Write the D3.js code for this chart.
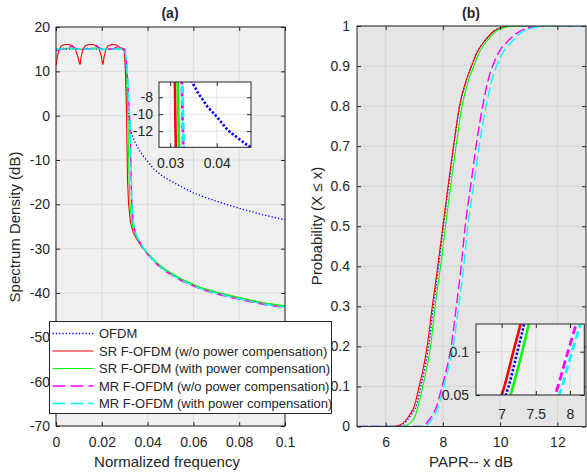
<!DOCTYPE html>
<html>
<head>
<meta charset="utf-8">
<script src="https://cdn.jsdelivr.net/npm/d3@7"></script>
<style>
  body { margin: 0; background: #fff; }
  svg { display: block; font-family: "Liberation Sans", Arial, Helvetica, sans-serif; }
</style>
</head>
<body>
<svg id="chart" width="587" height="472"></svg>
<script>
// ---- data: (a) spectrum density, [normalized frequency, dB] ----
var psdOfdm = [[0, 15], [0.01, 15], [0.02, 15], [0.0298, 15], [0.0304, 10], [0.031, 3], [0.0318, -1],
  [0.0328, -3.6], [0.0337, -5], [0.0345, -6], [0.036, -7.5], [0.038, -9.1], [0.04, -10.3], [0.0424, -11.9],
  [0.0464, -13.6], [0.05, -14.7], [0.055, -16.1], [0.06, -17.4], [0.065, -18.4], [0.07, -19.3],
  [0.075, -20.1], [0.08, -20.9], [0.085, -21.6], [0.09, -22.3], [0.095, -22.9], [0.1, -23.5]];

var psdSr = [[0, 11.3], [0.0006, 13.3], [0.0014, 15.0], [0.0024, 15.8], [0.0038, 16.05], [0.0058, 16.05],
  [0.0074, 15.7], [0.0085, 14.9], [0.0094, 13.6], [0.0101, 12.1], [0.0105, 11.5], [0.011, 13.3],
  [0.0118, 15.0], [0.0128, 15.8], [0.0142, 16.05], [0.0162, 16.05], [0.0178, 15.7], [0.0189, 14.9],
  [0.0197, 13.6], [0.0202, 12.1], [0.0205, 11.5], [0.021, 13.3], [0.0218, 15.0], [0.0228, 15.8],
  [0.0242, 16.05], [0.026, 16.0], [0.0274, 15.6], [0.0285, 15.1], [0.0293, 15.0],
  [0.0298, 14.6], [0.0302, 12], [0.0306, 5], [0.0308, 0], [0.031, -6], [0.0312, -14], [0.0317, -20],
  [0.0325, -24], [0.0338, -26.5], [0.035, -27.6], [0.0375, -29.6], [0.04, -31.2], [0.044, -33.3],
  [0.048, -35], [0.055, -37], [0.063, -38.8], [0.07, -39.9], [0.0774, -40.8], [0.085, -41.7],
  [0.092, -42.4], [0.1, -43]];

var psdSrPc = [[0, 14.8], [0.003, 15.1], [0.007, 15.3], [0.0105, 14.9], [0.014, 15.1], [0.0178, 15.3],
  [0.0205, 14.9], [0.024, 15.1], [0.028, 15.2], [0.0299, 15], [0.0306, 12], [0.0311, 5], [0.0314, 0],
  [0.0316, -6], [0.0319, -14], [0.0323, -20], [0.0331, -24], [0.0343, -26.5], [0.0355, -27.6],
  [0.0378, -29.5], [0.04, -31], [0.044, -33.1], [0.048, -34.8], [0.055, -36.9], [0.063, -38.7],
  [0.07, -39.8], [0.0774, -40.7], [0.085, -41.6], [0.092, -42.3], [0.1, -42.9]];

var psdMr = [[0, 14.6], [0.003, 15.0], [0.0055, 15.3], [0.0068, 15.8], [0.008, 15.3], [0.0105, 14.9],
  [0.015, 15.1], [0.0165, 15.4], [0.0176, 15.8], [0.0188, 15.3], [0.0205, 14.9], [0.025, 15.1],
  [0.0272, 15.6], [0.0285, 15.3], [0.03, 15], [0.0308, 12], [0.0316, 5], [0.0321, 0], [0.0325, -6],
  [0.0328, -14], [0.0331, -20], [0.0337, -24], [0.0348, -26.8], [0.036, -28], [0.038, -29.8],
  [0.04, -31.3], [0.044, -33.5], [0.048, -35.2], [0.055, -37.3], [0.063, -39.1], [0.07, -40.2],
  [0.0774, -41.1], [0.085, -42], [0.092, -42.7], [0.1, -43.3]];

var psdMrPc = [[0, 15], [0.01, 15], [0.02, 15], [0.0301, 15], [0.0309, 12], [0.0317, 5], [0.0322, 0],
  [0.0326, -6], [0.0329, -14], [0.0332, -20], [0.0338, -24], [0.0349, -26.7], [0.036, -27.9],
  [0.038, -29.7], [0.04, -31.2], [0.044, -33.4], [0.048, -35.1], [0.055, -37.2], [0.063, -39],
  [0.07, -40.1], [0.0774, -41], [0.085, -41.9], [0.092, -42.6], [0.1, -43.2]];

// ---- data: (b) PAPR CDF, [x dB, probability] ----
var cdfOfdm = [[5, 0], [6.25, 0], [6.55, 0.004], [6.75, 0.015], [6.9, 0.03], [7.06, 0.05], [7.23, 0.1],
  [7.35, 0.14], [7.5, 0.2], [7.67, 0.3], [7.85, 0.4], [8.02, 0.5], [8.2, 0.6], [8.38, 0.7], [8.59, 0.8],
  [8.83, 0.866], [9.0, 0.9], [9.2, 0.935], [9.5, 0.966], [9.8, 0.988], [10.1, 0.997], [10.5, 1], [13, 1]];

var cdfSr = [[5, 0], [6.2, 0], [6.5, 0.004], [6.7, 0.015], [6.85, 0.03], [7.0, 0.05], [7.17, 0.1],
  [7.3, 0.14], [7.45, 0.2], [7.63, 0.3], [7.82, 0.4], [8.0, 0.5], [8.18, 0.6], [8.37, 0.7], [8.58, 0.8],
  [8.82, 0.866], [9.0, 0.9], [9.2, 0.935], [9.5, 0.966], [9.8, 0.988], [10.1, 0.997], [10.5, 1], [13, 1]];

var cdfSrPc = [[5, 0], [6.45, 0], [6.75, 0.004], [6.95, 0.015], [7.05, 0.03], [7.13, 0.05], [7.3, 0.1],
  [7.42, 0.14], [7.57, 0.2], [7.73, 0.3], [7.92, 0.4], [8.09, 0.5], [8.27, 0.6], [8.46, 0.7], [8.67, 0.8],
  [8.9, 0.866], [9.08, 0.9], [9.28, 0.935], [9.58, 0.966], [9.88, 0.988], [10.2, 0.997], [10.6, 1], [13, 1]];

var cdfMr = [[5, 0], [7.3, 0], [7.5, 0.015], [7.65, 0.03], [7.78, 0.05], [7.97, 0.1], [8.09, 0.132],
  [8.29, 0.2], [8.47, 0.3], [8.64, 0.4], [8.78, 0.5], [8.97, 0.6], [9.16, 0.7], [9.39, 0.8], [9.6, 0.87],
  [9.74, 0.9], [10.0, 0.94], [10.2, 0.957], [10.67, 0.986], [11.2, 0.998], [11.6, 1], [13, 1]];

var cdfMrPc = [[5, 0], [7.4, 0], [7.58, 0.015], [7.72, 0.03], [7.84, 0.05], [8.03, 0.1], [8.15, 0.132],
  [8.36, 0.2], [8.55, 0.3], [8.73, 0.4], [8.87, 0.5], [9.07, 0.6], [9.27, 0.7], [9.51, 0.8], [9.73, 0.87],
  [9.88, 0.9], [10.15, 0.94], [10.35, 0.957], [10.8, 0.986], [11.35, 0.998], [11.8, 1], [13, 1]];

var seriesNames = ['OFDM', 'SR F-OFDM (w/o power compensation)', 'SR F-OFDM (with power compensation)',
  'MR F-OFDM (w/o power compensation)', 'MR F-OFDM (with power compensation)'];

// ---- tick values ----
var psdFreqTicks = [0, 0.02, 0.04, 0.06, 0.08, 0.1];
var psdDbTicks = [20, 10, 0, -10, -20, -30, -40, -50, -60, -70];
var psdZoomFreqTicks = [0.03, 0.04];
var psdZoomDbTicks = [-8, -10, -12];
var paprTicks = [6, 8, 10, 12];
var probTicks = [0, 0.1, 0.2, 0.3, 0.4, 0.5, 0.6, 0.7, 0.8, 0.9, 1];
var paprZoomTicks = [7, 7.5, 8];
var probZoomTicks = [0.05, 0.1];

// ---- styles ----
var colors = ['#0000ff', '#ff0000', '#00ff00', '#ff00ff', '#00ffff'];
var kinds = ['dot', 'solid', 'solid', 'dash', 'dash'];
var ink = '#262626';

var svg = d3.select('#chart');
var clipCount = 0;

function dashFor(kind, style) {
  if (kind === 'dot') return style.dot;
  if (kind === 'dash') return style.dash;
  return null;
}

function widthFor(kind, style) {
  return kind === 'solid' ? style.solidWidth : (kind === 'dot' ? style.dotWidth : style.dashWidth);
}

function drawPanel(opts) {
  var w = opts.right - opts.left;
  var h = opts.bottom - opts.top;
  var x = d3.scaleLinear().domain(opts.xDomain).range([0, w]);
  var y = d3.scaleLinear().domain(opts.yDomain).range([h, 0]);
  var g = svg.append('g').attr('transform', 'translate(' + opts.left + ',' + opts.top + ')');

  g.append('rect').attr('width', w).attr('height', h).attr('fill', opts.background);

  // grid
  g.selectAll('.gx').data(opts.xTicks).enter().append('line')
    .attr('x1', x).attr('x2', x).attr('y1', 0).attr('y2', h)
    .attr('stroke', opts.gridColor).attr('stroke-width', 1);
  g.selectAll('.gy').data(opts.yTicks).enter().append('line')
    .attr('y1', y).attr('y2', y).attr('x1', 0).attr('x2', w)
    .attr('stroke', opts.gridColor).attr('stroke-width', 1);

  // series
  var id = 'clip' + (clipCount++);
  g.append('clipPath').attr('id', id).append('rect').attr('width', w).attr('height', h);
  var line = d3.line().x(function (d) { return x(d[0]); }).y(function (d) { return y(d[1]); })
    .curve(opts.curve || d3.curveLinear);
  var lines = g.append('g').attr('clip-path', 'url(#' + id + ')');
  opts.series.forEach(function (s, i) {
    lines.append('path').datum(s)
      .attr('d', line)
      .attr('fill', 'none')
      .attr('stroke', colors[i])
      .attr('stroke-width', widthFor(kinds[i], opts.style))
      .attr('stroke-dasharray', dashFor(kinds[i], opts.style));
  });

  // axes, ticks pointing inward on all four sides
  var fmt = function (d) { return String(d); };
  var axB = g.append('g').attr('transform', 'translate(0,' + h + ')')
    .call(d3.axisBottom(x).tickValues(opts.xTicks).tickFormat(fmt).tickSize(-4).tickSizeOuter(0).tickPadding(opts.xPad));
  var axL = g.append('g')
    .call(d3.axisLeft(y).tickValues(opts.yTicks).tickFormat(fmt).tickSize(-4).tickSizeOuter(0).tickPadding(opts.yPad));
  var axT = g.append('g')
    .call(d3.axisTop(x).tickValues(opts.xTicks).tickFormat('').tickSize(-4).tickSizeOuter(0));
  var axR = g.append('g').attr('transform', 'translate(' + w + ',0)')
    .call(d3.axisRight(y).tickValues(opts.yTicks).tickFormat('').tickSize(-4).tickSizeOuter(0));
  [axB, axL, axT, axR].forEach(function (a) {
    a.select('.domain').remove();
    a.selectAll('line').attr('stroke', ink);
    a.selectAll('text').attr('fill', ink).attr('font-size', 14)
      .attr('font-family', '"Liberation Sans", Arial, Helvetica, sans-serif');
  });

  g.append('rect').attr('width', w).attr('height', h)
    .attr('fill', 'none').attr('stroke', ink).attr('stroke-width', 1);
  return g;
}

var mainStyle = { solidWidth: 1.1, dotWidth: 1.3, dashWidth: 1.4, dot: '1.3,2', dash: '10,4' };
var zoomStyle = { solidWidth: 2.6, dotWidth: 2.6, dashWidth: 2.8, dot: '2.4,1.8', dash: '8,4' };

// (a) main
drawPanel({
  left: 56, right: 285, top: 27, bottom: 426,
  xDomain: [0, 0.1], yDomain: [-70, 20],
  xTicks: psdFreqTicks, yTicks: psdDbTicks, xPad: 11, yPad: 6,
  background: '#f0f0f0', gridColor: '#dcdcdc',
  series: [psdOfdm, psdSr, psdSrPc, psdMr, psdMrPc], style: mainStyle
});
// (a) zoom
drawPanel({
  left: 159, right: 251, top: 82, bottom: 147.3,
  xDomain: [0.0276, 0.04735], yDomain: [-13.9, -6.2],
  xTicks: psdZoomFreqTicks, yTicks: psdZoomDbTicks, xPad: 11, yPad: 6,
  background: '#ffffff', gridColor: '#e3e3e3',
  series: [psdOfdm, psdSr, psdSrPc, psdMr, psdMrPc], style: zoomStyle
});
// (b) main
drawPanel({
  left: 357, right: 586, top: 26, bottom: 426.5,
  xDomain: [5, 13], yDomain: [0, 1],
  xTicks: paprTicks, yTicks: probTicks, xPad: 11, yPad: 7,
  background: '#e5e5e5', gridColor: '#d4d4d4',
  series: [cdfOfdm, cdfSr, cdfSrPc, cdfMr, cdfMrPc], curve: d3.curveMonotoneX, style: mainStyle
});
// (b) zoom
drawPanel({
  left: 476, right: 584.3, top: 324, bottom: 395,
  xDomain: [6.624, 8.21], yDomain: [0.05, 0.132],
  xTicks: paprZoomTicks, yTicks: probZoomTicks, xPad: 14, yPad: 7,
  background: '#f0f0f0', gridColor: '#dcdcdc',
  series: [cdfOfdm, cdfSr, cdfSrPc, cdfMr, cdfMrPc], curve: d3.curveMonotoneX, style: zoomStyle
});

// titles and axis labels
function label(txt, x, y, rot, size, weight) {
  svg.append('text').text(txt)
    .attr('transform', 'translate(' + x + ',' + y + ')' + (rot ? ' rotate(' + rot + ')' : ''))
    .attr('text-anchor', 'middle').attr('fill', ink)
    .attr('font-size', size).attr('font-weight', weight || 'normal');
}
label('(a)', 170, 18, 0, 14, 'bold');
label('(b)', 471, 18, 0, 14, 'bold');
label('Normalized frequency', 167, 467, 0, 15);
label('PAPR-- x dB', 471, 467, 0, 15);
label('Spectrum Density (dB)', 20, 227, -90, 15);
label('Probability (X \u2264 x)', 322, 226, -90, 15);

// legend
var legend = svg.append('g').attr('transform', 'translate(49.5,321.5)');
legend.append('rect').attr('width', 282).attr('height', 92)
  .attr('fill', '#fff').attr('stroke', ink).attr('stroke-width', 1);
var rows = legend.selectAll('.row').data(seriesNames).enter().append('g')
  .attr('transform', function (d, i) { return 'translate(0,' + (12 + i * 17.5) + ')'; });
rows.append('line').attr('x1', 3).attr('x2', 44).attr('y1', 0).attr('y2', 0)
  .attr('stroke', function (d, i) { return colors[i]; })
  .attr('stroke-width', function (d, i) { return widthFor(kinds[i], mainStyle); })
  .attr('stroke-dasharray', function (d, i) { return kinds[i] === 'dash' ? '13,5' : dashFor(kinds[i], mainStyle); });
rows.append('text').text(function (d) { return d; })
  .attr('x', 49.5).attr('dy', '0.35em').attr('fill', ink).attr('font-size', 13);
</script>
</body>
</html>
